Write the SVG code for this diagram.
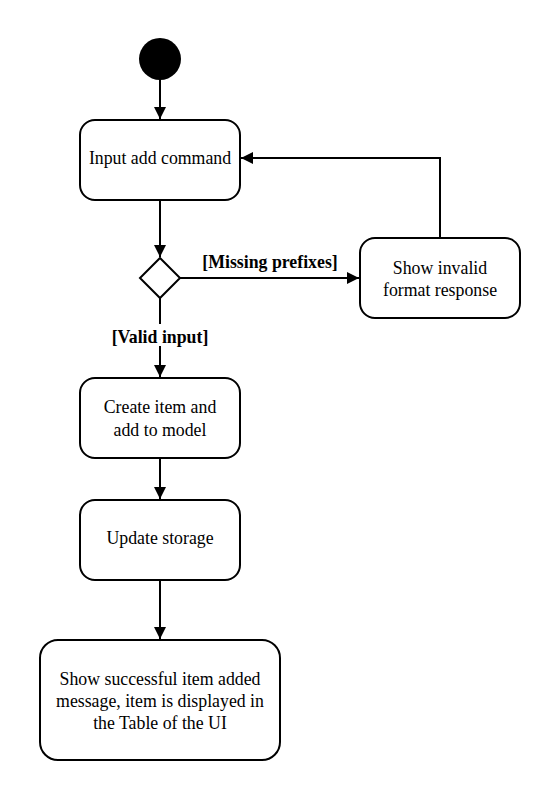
<svg xmlns="http://www.w3.org/2000/svg" width="560" height="800" viewBox="0 0 560 800">
<style>
.box{fill:#fff;stroke:#000;stroke-width:2}
.t{font-family:"Liberation Serif","Times New Roman",serif;font-size:17.8px;fill:#000;text-anchor:middle}
.b{font-weight:bold}
.c{fill:none;stroke:#000;stroke-width:2}
</style>
<defs>
<marker id="arr" viewBox="0 0 10 10" refX="10" refY="5" markerWidth="6" markerHeight="6" markerUnits="strokeWidth" orient="auto">
<path d="M0,0 L10,5 L0,10 z" fill="#000"/>
</marker>
</defs>
<rect width="560" height="800" fill="#fff"/>
<g id="connectors">
<line class="c" x1="160" y1="80" x2="160" y2="119" marker-end="url(#arr)"/>
<line class="c" x1="160" y1="200" x2="160" y2="257" marker-end="url(#arr)"/>
<line class="c" x1="180" y1="278" x2="359" y2="278" marker-end="url(#arr)"/>
<polyline class="c" points="440,238 440,158 241,158" marker-end="url(#arr)"/>
<line class="c" x1="160" y1="298" x2="160" y2="377" marker-end="url(#arr)"/>
<line class="c" x1="160" y1="458" x2="160" y2="499" marker-end="url(#arr)"/>
<line class="c" x1="160" y1="580" x2="160" y2="639" marker-end="url(#arr)"/>
<rect x="108" y="324" width="104" height="22" fill="#fff"/>
<text class="t b" x="160" y="343">[Valid input]</text>
<text class="t b" x="270" y="268">[Missing prefixes]</text>
</g>
<g id="start"><circle cx="160" cy="59" r="21" fill="#000"/></g>
<g id="input"><rect class="box" x="80" y="120" width="160" height="80" rx="15"/><text class="t" x="160" y="164">Input add command</text></g>
<g id="decision"><path class="box" d="M160,258 L180,278 L160,298 L140,278 z"/></g>
<g id="invalid"><rect class="box" x="360" y="238" width="160" height="80" rx="15"/><text class="t" x="440" y="274">Show invalid</text><text class="t" x="440" y="296">format response</text></g>
<g id="create"><rect class="box" x="80" y="378" width="160" height="80" rx="15"/><text class="t" x="160" y="413">Create item and</text><text class="t" x="160" y="436">add to model</text></g>
<g id="storage"><rect class="box" x="80" y="500" width="160" height="80" rx="15"/><text class="t" x="160" y="544">Update storage</text></g>
<g id="success"><rect class="box" x="40" y="640" width="240" height="120" rx="18"/><text class="t" x="160" y="685">Show successful item added</text><text class="t" x="160" y="707">message, item is displayed in</text><text class="t" x="160" y="729">the Table of the UI</text></g>
</svg>
